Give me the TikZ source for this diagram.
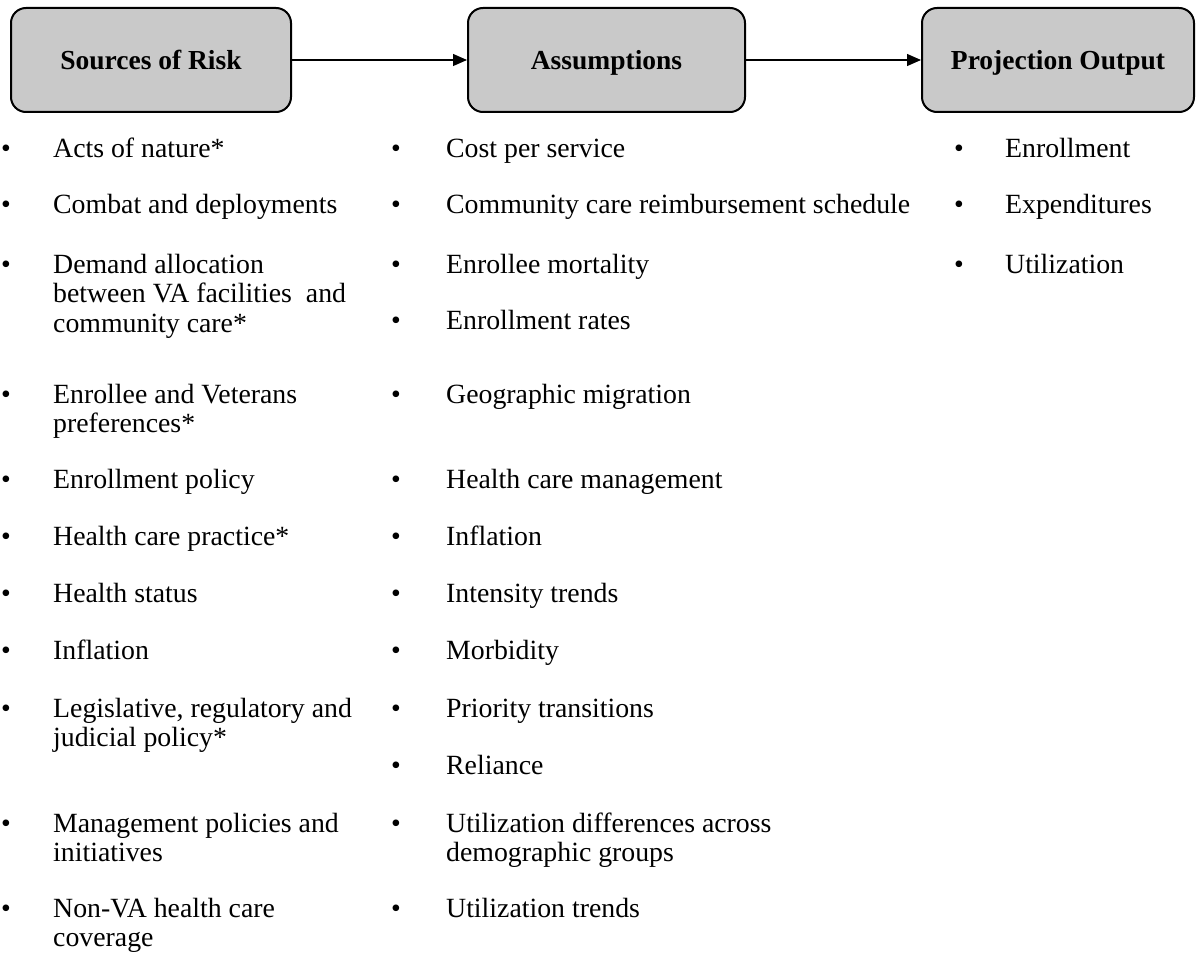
\documentclass[tikz,border=0pt]{standalone}
\usepackage{fontspec}
\setmainfont{Liberation Serif}
\usetikzlibrary{arrows.meta}
\definecolor{boxgray}{HTML}{C9C9C9}
\newcommand{\itembul}[2]{\makebox[#1][l]{\textbullet}#2}
\newcommand{\twoline}[2]{\begin{tabular}[t]{@{}l@{}}#1\\#2\end{tabular}}
\newcommand{\threeline}[3]{\begin{tabular}[t]{@{}l@{}}#1\\#2\\#3\end{tabular}}
\begin{document}
\begin{tikzpicture}[x=1pt,y=-1pt,
  head/.style={draw=black, line width=2pt, fill=boxgray, rounded corners=15pt,
    minimum height=104pt, inner sep=0pt,
    font=\fontsize{27.5}{30}\selectfont\bfseries, text height=24pt, text depth=4pt},
  entry/.style={anchor=base west, inner sep=0pt, font=\fontsize{27.8}{29.5}\selectfont},
  link/.style={line width=1.2pt, -{Triangle[length=14pt,width=12pt]}}]
\useasboundingbox (0,0) rectangle (1196,960);

% headers
\node[head, minimum width=280pt] (src) at (151,60) {Sources of Risk};
\node[head, minimum width=277pt] (asm) at (606.5,60) {Assumptions};
\node[head, minimum width=272pt] (out) at (1058,60) {Projection Output};
\draw[link] (src.east) -- (asm.west);
\draw[link] (asm.east) -- (out.west);

% column 1: sources of risk
\node[entry] (s1)  at (1,158) {\itembul{52pt}{Acts of nature*}};
\node[entry] (s2)  at (1,214) {\itembul{52pt}{Combat and deployments}};
\node[entry] (s3)  at (1,273) {\itembul{52pt}{\threeline{Demand allocation}{between VA facilities \ and}{community care*}}};
\node[entry] (s4)  at (1,403) {\itembul{52pt}{\twoline{Enrollee and Veterans}{preferences*}}};
\node[entry] (s5)  at (1,488) {\itembul{52pt}{Enrollment policy}};
\node[entry] (s6)  at (1,545) {\itembul{52pt}{Health care practice*}};
\node[entry] (s7)  at (1,602) {\itembul{52pt}{Health status}};
\node[entry] (s8)  at (1,659) {\itembul{52pt}{Inflation}};
\node[entry] (s9)  at (1,717) {\itembul{52pt}{\twoline{Legislative, regulatory and}{judicial policy*}}};
\node[entry] (s10) at (1,832) {\itembul{52pt}{\twoline{Management policies and}{initiatives}}};
\node[entry] (s11) at (1,917) {\itembul{52pt}{\twoline{Non-VA health care}{coverage}}};

% column 2: assumptions
\node[entry] (a1)  at (391,158) {\itembul{55pt}{Cost per service}};
\node[entry] (a2)  at (391,214) {\itembul{55pt}{Community care reimbursement schedule}};
\node[entry] (a3)  at (391,273) {\itembul{55pt}{Enrollee mortality}};
\node[entry] (a4)  at (391,329) {\itembul{55pt}{Enrollment rates}};
\node[entry] (a5)  at (391,403) {\itembul{55pt}{Geographic migration}};
\node[entry] (a6)  at (391,488) {\itembul{55pt}{Health care management}};
\node[entry] (a7)  at (391,545) {\itembul{55pt}{Inflation}};
\node[entry] (a8)  at (391,602) {\itembul{55pt}{Intensity trends}};
\node[entry] (a9)  at (391,659) {\itembul{55pt}{Morbidity}};
\node[entry] (a10) at (391,717) {\itembul{55pt}{Priority transitions}};
\node[entry] (a11) at (391,774) {\itembul{55pt}{Reliance}};
\node[entry] (a12) at (391,832) {\itembul{55pt}{\twoline{Utilization differences across}{demographic groups}}};
\node[entry] (a13) at (391,917) {\itembul{55pt}{Utilization trends}};

% column 3: projection output
\node[entry] (o1) at (954,158) {\itembul{51pt}{Enrollment}};
\node[entry] (o2) at (954,214) {\itembul{51pt}{Expenditures}};
\node[entry] (o3) at (954,273) {\itembul{51pt}{Utilization}};
\end{tikzpicture}
\end{document}
